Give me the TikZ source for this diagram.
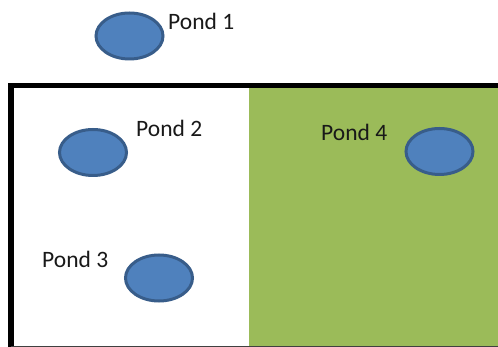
\documentclass[tikz,border=0pt]{standalone}
\usepackage{fontspec}
\setmainfont{Carlito}
\usetikzlibrary{shapes.geometric}
\definecolor{pondfill}{HTML}{4F81BD}
\definecolor{pondedge}{HTML}{385D8A}
\definecolor{fieldgreen}{HTML}{9BBB59}
\tikzset{
  pond/.style={ellipse, draw=pondedge, fill=pondfill, line width=3pt,
    minimum width=67pt, minimum height=46pt, inner sep=0pt},
  pondlabel/.style={anchor=base west, inner sep=0pt, text=black!90,
    font=\fontsize{23.5}{28}\selectfont}
}
\begin{document}
\begin{tikzpicture}[x=1pt,y=-1pt]
\useasboundingbox (0,0) rectangle (498,347);
\clip (0,0) rectangle (498,347);
\fill[white] (0,0) rectangle (498,347);
\fill[fieldgreen] (249,86) rectangle (520,360);
\draw[line width=5.5pt] (11,349) -- (11,85.5) -- (520,85.5);
\draw[line width=5.5pt, black!75] (11,349) -- (520,349);
\node[pond] (p1) at (129.5,36) {};
\node[pond] (p2) at (93,152.5) {};
\node[pond] (p3) at (159,278) {};
\node[pond] (p4) at (439.5,151.5) {};
\node[pondlabel] (l1) at (168,30) {Pond 1};
\node[pondlabel] (l2) at (136,137) {Pond 2};
\node[pondlabel] (l3) at (42,268) {Pond 3};
\node[pondlabel] (l4) at (321,141) {Pond 4};
\end{tikzpicture}
\end{document}
